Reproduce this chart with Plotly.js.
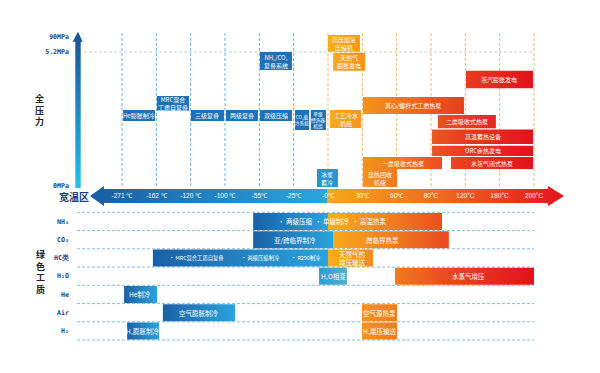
<!DOCTYPE html>
<html><head><meta charset="utf-8">
<script src="https://cdn.plot.ly/plotly-3.0.1.min.js"></script>
<style>html,body{margin:0;padding:0;background:#fff}#chart{width:600px;height:373px}</style>
</head><body><div id="chart"></div>
<script>
// ---------- DATA ----------
// temperature scale (index positions 0..12 along the wide-temperature axis)
const tempLabels = ['-271 ℃','-162 ℃','-120 ℃','-100 ℃','-55℃','-25℃','-0℃','30℃','60℃','80°C','120°C','180°C','200°C'];
// pressure scale labels and their levels (vertical level on chart)
const pressureLabels = ['90MPa','5.2MPa','0MPa'];
const pressureLevels = [37, 52, 186];

// full-pressure section: technologies (from/to along temperature index, top/bottom level)
const topNames = ['He膨胀制冷','MRC混合<br>工质自复叠','三级复叠','两级复叠','双级压缩','NH₃/CO₂<br>复叠系统','CO₂载<br>冷系统','单级<br>经济器<br>机组','冰浆<br>蓄冷',
  '高压加氢<br>压缩机','天然气<br>膨胀发电','工艺冷水<br>机组','显热回收<br>机组','离心/螺杆式工质热泵','一类吸收式热泵','二类吸收式热泵','高温蓄热设备','ORC余热发电','水蒸气闭式热泵','蒸汽膨胀发电'];
const topFrom = [0.03,1.02,2.01,3.03,4.02,4.02,5.04,5.50,5.68, 6.00,6.15,6.06,7.02,7.02,7.02,9.20,9.03,9.03,9.58,10.02];
const topTo   = [0.96,1.95,2.97,3.96,4.95,4.95,5.45,5.94,6.29, 6.93,7.08,6.96,8.01,9.96,9.32,10.89,11.97,11.97,11.97,11.97];
const topHigh = [110,96,110,110,110,52,110,110,169, 35,52.7,110,169,97,157,115,129.5,145.7,157,70.7];
const topLow  = [121,110.7,121,121,121,70,130,130,187, 51.7,70.7,128,187,114,169,128.3,144,156,169,88.3];
const topKind = ['cold','cold','cold','cold','cold','cold','cold','cold','ice', 'heat','heat','heat','heat','heat','heat','heat','heat','heat','heat','heat'];

// green working fluids section
const fluids = ['NH₃','CO₂','HC类','H₂O','He','Air','H₂'];
const barFluid = [0,0, 1,1, 2,2, 3,3, 4, 5,5, 6,6];
const barFrom  = [3.82,6.00, 3.82,6.15, 0.90,6.00, 5.74,7.95, 0.06, 1.19,6.99, 0.15,6.99];
const barTo    = [6.00,9.32, 6.15,9.52, 6.00,7.31, 6.55,12.00, 1.02, 3.29,8.01, 1.08,8.01];
const barKind  = ['cold','heat','cold','heat','cold','heat','phase','heat','cold','cold','heat','cold','heat'];

const noteFluid = [0,0,0, 1,1, 2,2,2,2, 3,3, 4, 5,5, 6,6];
const noteAt    = [5.05,6.12,7.19, 5.04,7.60, 2.16,4.02,5.36,6.70, 6.15,10.08, 0.52, 2.24,7.51, 0.61,7.51];
const noteText  = ['· 两级压缩','· 单级制冷','· 高温热泵','亚/跨临界制冷','跨临界热泵',
  '· MRC混合工质自复叠','· 两级压缩制冷','· R290制冷','天然气的<br>增压输送','H₂O相变','水蒸气增压','He制冷',
  '空气膨胀制冷','空气源热泵','H₂膨胀制冷','H₂增压输送'];
const noteSmall = [false,false,false,false,false,true,true,true,false,false,false,false,false,false,false,false];

// ---------- LAYOUT HELPERS ----------
const W = 600, H = 373;
const tick0 = 122, tickStep = 34.333;
const xr = [(0 - tick0) / tickStep, (W - tick0) / tickStep];
const px = p => (p - tick0) / tickStep;   // pixel -> axis index (for decorations only)
const rowTop0 = 212.3, rowH = 18.25;
const rowTop = r => rowTop0 + r * rowH;

const heatScale = [[0,'#f9ad1a'],[0.333,'#f07a1f'],[0.55,'#ea4f1f'],[0.75,'#e6301e'],[1,'#e3121c']];
const coldScale = [[0,'#1b60a7'],[1,'#2aa4dc']];

const traces = [];
function box(x0, x1, y0, y1, kind) {
  const t = {type:'scatter', mode:'none', x:[x0,x1,x1,x0,x0], y:[y0,y0,y1,y1,y0], fill:'toself',
    hoverinfo:'skip', showlegend:false};
  if (kind === 'heat') {
    t.fillcolor = '#ef6a1f';
    t.fillgradient = {type:'horizontal', start:6, stop:12, colorscale:heatScale};
  } else if (kind === 'cold') {
    t.fillcolor = '#1f6db3';
    t.fillgradient = {type:'horizontal', colorscale:coldScale};
  } else if (kind === 'topcold') {
    t.fillcolor = '#2070b5';
  } else if (kind === 'ice') {
    t.fillcolor = '#2a93cf';
  } else if (kind === 'phase') {
    t.fillcolor = '#2fa3d4';
    t.fillgradient = {type:'horizontal', colorscale:[[0,'#2a9fd8'],[1,'#4fb0c6']]};
  }
  traces.push(t);
}

// temperature arrow (decoration)
traces.push({type:'scatter', mode:'none', hoverinfo:'skip', showlegend:false, fill:'toself', fillcolor:'#2a8fd0',
  x:[px(90),px(104),px(104),px(548),px(548),px(564),px(548),px(548),px(104),px(104),px(90)],
  y:[196,186,189,189,186,196,206,203,203,206,196],
  fillgradient:{type:'horizontal', start:px(90), stop:px(564),
    colorscale:[[0,'#1a5ca4'],[0.499,'#2aa6de'],[0.5,'#f8a91b'],[0.75,'#ee661f'],[1,'#e3121c']]}});
// pressure arrow (decoration)
traces.push({type:'scatter', mode:'none', hoverinfo:'skip', showlegend:false, fill:'toself', fillcolor:'#2180c0',
  x:[px(78),px(82.7),px(80.7),px(80.7),px(75.3),px(75.3),px(72.7),px(78)],
  y:[31.7,41.7,41.7,188,188,41.7,41.7,31.7],
  fillgradient:{type:'vertical', start:31.7, stop:188, colorscale:[[0,'#1a5196'],[1,'#2cbbec']]}});

// boxes
const annotations = [];
const boxFont = {family:'Noto Sans CJK SC', size:6, color:'#ffffff'};
topNames.forEach((n, i) => {
  const k = topKind[i] === 'cold' ? 'topcold' : topKind[i];
  box(topFrom[i], topTo[i], topHigh[i], topLow[i], k);
  const nLines = n.split('<br>').length;
  annotations.push({xref:'x', yref:'y', x:(topFrom[i]+topTo[i])/2, y:(topHigh[i]+topLow[i])/2,
    text:n, showarrow:false, font:Object.assign({}, boxFont, {size: nLines>2 || (topTo[i]-topFrom[i])<0.5 ? 4.6 : 6}),
    xanchor:'center', yanchor:'middle'});
});
barFluid.forEach((r, i) => {
  box(barFrom[i], barTo[i], rowTop(r)+0.6, rowTop(r+1)-0.6, barKind[i]);
});
noteText.forEach((t, i) => {
  const r = noteFluid[i];
  annotations.push({xref:'x', yref:'y', x:noteAt[i], y:rowTop(r)+rowH/2, text:t, showarrow:false,
    font:{family:'Noto Sans CJK SC', size: noteSmall[i] ? 5.3 : 6.5, color:'#ffffff'}, xanchor:'center', yanchor:'middle'});
});

// grid shapes
const shapes = [];
tempLabels.forEach((_, i) => {
  shapes.push({type:'line', xref:'x', yref:'y', x0:i, x1:i, y0:33, y1:188, layer:'below',
    line:{color: i < 6 ? '#6cb0e0' : '#f6b66a', width:1, dash:'3px,2px'}});
});
shapes.push({type:'line', xref:'x', yref:'y', x0:px(84), x1:12, y0:pressureLevels[1], y1:pressureLevels[1], layer:'below',
  line:{color:'#cfcfcf', width:1, dash:'3px,2px'}});
for (let r = 0; r <= fluids.length; r++) {
  shapes.push({type:'line', xref:'x', yref:'y', x0:px(77), x1:12, y0:rowTop(r), y1:rowTop(r), layer:'below',
    line:{color:'#86bde6', width:1, dash:'3px,2px'}});
}

// side titles (stacked vertical text)
const titleFont = {family:'Noto Sans CJK SC', size:9, color:'#222222', weight:700};
annotations.push({xref:'paper', yref:'paper', x:39/W, y:1-110/H, text:'全压力'.split('').join('<br>'),
  showarrow:false, font:titleFont, xanchor:'center', yanchor:'middle'});
annotations.push({xref:'paper', yref:'paper', x:40/W, y:1-272/H, text:'绿色工质'.split('').join('<br>'),
  showarrow:false, font:titleFont, xanchor:'center', yanchor:'middle'});
annotations.push({xref:'paper', yref:'paper', x:74/W, y:1-196/H, text:'宽温区', showarrow:false,
  font:{family:'Noto Sans CJK SC', size:10, color:'#1c3f80', weight:700}, xanchor:'center', yanchor:'middle'});

const rowCenters = fluids.map((_, r) => rowTop(r) + rowH/2);

const layout = {
  width:W, height:H, margin:{l:0,r:0,t:0,b:0}, paper_bgcolor:'#ffffff', plot_bgcolor:'rgba(0,0,0,0)',
  showlegend:false,
  xaxis:{range:xr, domain:[0,1], showgrid:false, zeroline:false, showline:false, ticks:'',
    tickvals:tempLabels.map((_, i) => i), ticktext:tempLabels, tickangle:0,
    tickfont:{family:'Liberation Sans', size:6.5, color:'#ffffff'},
    anchor:'free', position:1-190/H, fixedrange:true},
  yaxis:{range:[H,0], domain:[0,1], showgrid:false, zeroline:false, showline:false, ticks:'',
    tickvals:pressureLevels.concat(rowCenters), ticktext:pressureLabels.concat(fluids),
    tickfont:{family:'DejaVu Sans Mono', size:6.6, color:'#1c3f80', weight:700},
    anchor:'free', position:69/W, side:'left', fixedrange:true},
  shapes:shapes, annotations:annotations
};
Plotly.newPlot('chart', traces, layout, {staticPlot:true, displayModeBar:false});
</script></body></html>
